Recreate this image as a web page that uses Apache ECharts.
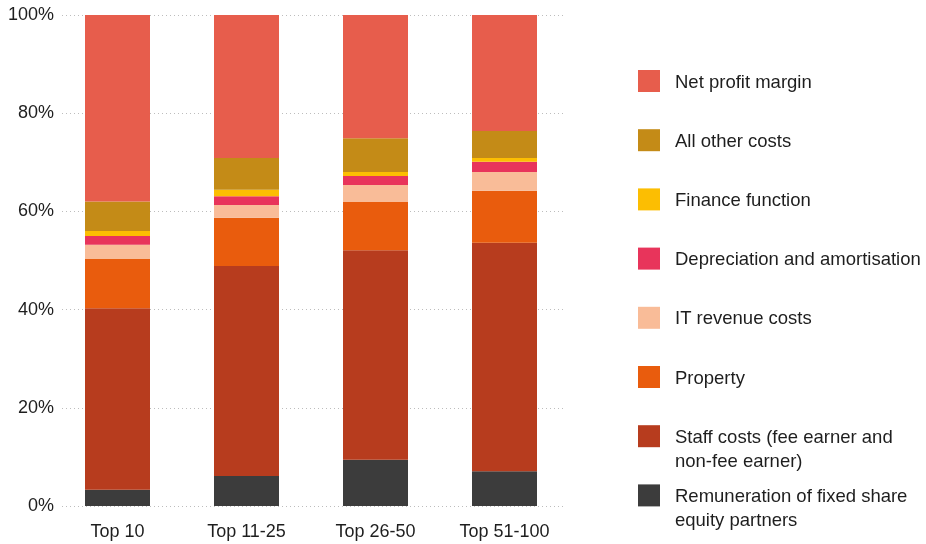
<!DOCTYPE html>
<html>
<head>
<meta charset="utf-8">
<script src="https://cdn.jsdelivr.net/npm/echarts@6/dist/echarts.min.js"></script>
<style>
  html, body { margin: 0; padding: 0; background: #fff; }
  #chart { width: 926px; height: 544px; }
</style>
</head>
<body>
<div id="chart"></div>
<script>
// Cost structure as a share of fee income, by firm size band (%)
const categories = ['Top 10', 'Top 11-25', 'Top 26-50', 'Top 51-100'];

// Stack order, bottom to top
const remuneration = [3.3, 6.1, 9.4, 7.1];
const staffCosts   = [37.0, 42.8, 42.7, 46.5];
const property     = [10.0, 9.8, 9.8, 10.6];
const itRevenue    = [2.9, 2.6, 3.5, 3.8];
const depreciation = [1.8, 1.8, 1.8, 2.1];
const finance      = [1.0, 1.3, 0.8, 0.8];
const otherCosts   = [6.0, 6.5, 6.9, 5.5];
const netProfit    = [38.0, 29.1, 25.1, 23.6];

const yTicks = [0, 20, 40, 60, 80, 100];

const seriesDefs = [
  { name: 'Remuneration of fixed share\nequity partners', data: remuneration, color: '#3c3c3c' },
  { name: 'Staff costs (fee earner and\nnon-fee earner)', data: staffCosts, color: '#b73c1e' },
  { name: 'Property', data: property, color: '#e95c0d' },
  { name: 'IT revenue costs', data: itRevenue, color: '#f9bc98' },
  { name: 'Depreciation and amortisation', data: depreciation, color: '#e8345b' },
  { name: 'Finance function', data: finance, color: '#fcbe02' },
  { name: 'All other costs', data: otherCosts, color: '#c48b17' },
  { name: 'Net profit margin', data: netProfit, color: '#e75d4c' }
];

const FONT = '"Liberation Sans", Arial, Helvetica, sans-serif';
const TEXT = '#1e1e1e';

// Legend drawn top to bottom in reverse stack order
const legendItems = seriesDefs.slice().reverse();
const legendGraphics = [];
legendItems.forEach((s, i) => {
  const cy = 81 + i * 59.2;
  legendGraphics.push({
    type: 'rect',
    left: 638, top: cy - 11,
    shape: { width: 22, height: 22 },
    style: { fill: s.color }
  });
  legendGraphics.push({
    type: 'text',
    left: 675, top: cy - 10.5,
    style: {
      text: s.name,
      font: '18.5px ' + FONT,
      fill: TEXT,
      lineHeight: 24,
      verticalAlign: 'top'
    }
  });
});

const chart = echarts.init(document.getElementById('chart'), null, { renderer: 'canvas' });

chart.setOption({
  animation: false,
  textStyle: { fontFamily: FONT },
  grid: [
    // bars
    { left: 53, right: 357, top: 15, bottom: 38 },
    // gridlines and percentage labels
    { left: 62, right: 361, top: 15, bottom: 38 }
  ],
  xAxis: [
    {
      type: 'category', gridIndex: 0, data: categories,
      axisLine: { show: false }, axisTick: { show: false },
      axisLabel: { color: TEXT, fontSize: 18, margin: 17, fontFamily: FONT }
    },
    {
      type: 'category', gridIndex: 1, data: categories, show: false
    }
  ],
  yAxis: [
    {
      type: 'value', gridIndex: 0, min: 0, max: 100, interval: 20,
      show: false, splitLine: { show: false }
    },
    {
      type: 'value', gridIndex: 1, min: yTicks[0], max: yTicks[yTicks.length - 1], interval: 20,
      axisLine: { show: false }, axisTick: { show: false },
      axisLabel: { color: TEXT, fontSize: 18, margin: 8, fontFamily: FONT, formatter: '{value}%' },
      splitLine: { show: true, lineStyle: { color: '#bdbdbd', type: [1, 3], width: 1 } }
    }
  ],
  series: seriesDefs.map(s => ({
    name: s.name,
    type: 'bar',
    stack: 'total',
    xAxisIndex: 0,
    yAxisIndex: 0,
    barWidth: 65,
    data: s.data,
    itemStyle: { color: s.color },
    z: 3
  })),
  graphic: legendGraphics
});
</script>
</body>
</html>
